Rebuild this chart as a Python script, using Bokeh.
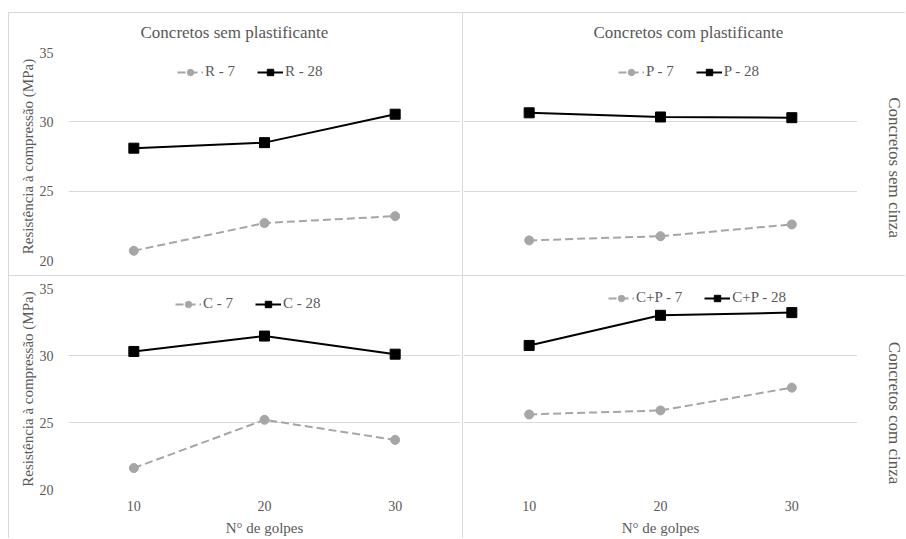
import math
from bokeh.plotting import figure
from bokeh.models import Range1d, FactorRange, FixedTicker, Legend, LegendItem, Title, Div, Label
from bokeh.layouts import column, row
from bokeh.embed import file_html
from bokeh.resources import INLINE

# ---------------- data ----------------
golpes = ["10", "20", "30"]
y_ticks = [20, 25, 30, 35]

r7 = [20.7, 22.7, 23.2]
r28 = [28.1, 28.5, 30.55]
p7 = [21.45, 21.75, 22.6]
p28 = [30.65, 30.35, 30.3]
c7 = [21.6, 25.2, 23.7]
c28 = [30.3, 31.45, 30.1]
cp7 = [25.6, 25.9, 27.6]
cp28 = [30.75, 33.0, 33.2]

col_titles = ["Concretos sem plastificante", "Concretos com plastificante"]
row_titles = ["Concretos sem cinza", "Concretos com cinza"]
y_label = "Resistência à compressão (MPa)"
x_label = "N° de golpes"

FONT = "Liberation Serif, Tinos, serif"
TXT = "#595959"
GRID = "#d9d9d9"
GRAY = "#a6a6a6"


def panel(s7, s28, n7, n28, width, height, mbl, mbr, mbt, mbb,
          show_y, show_x, top_title, top_off, leg_loc):
    p = figure(width=width, height=height,
               x_range=FactorRange(factors=golpes, range_padding=0),
               y_range=Range1d(20, 35),
               output_backend="svg", toolbar_location=None, tools="",
               title=None,
               min_border_left=mbl, min_border_right=mbr,
               min_border_top=mbt, min_border_bottom=mbb)
    p.outline_line_color = None
    p.background_fill_color = "white"
    p.border_fill_color = "white"

    l7 = p.line(golpes, s7, line_color=GRAY, line_width=2, line_dash="8 4")
    m7 = p.scatter(golpes, s7, marker="circle", size=9, fill_color=GRAY, line_color=GRAY)
    l28 = p.line(golpes, s28, line_color="black", line_width=2)
    m28 = p.scatter(golpes, s28, marker="square", size=10, fill_color="black", line_color="black")

    p.xgrid.visible = False
    p.ygrid.grid_line_color = GRID
    p.ygrid.ticker = FixedTicker(ticks=y_ticks)

    for ax in (p.xaxis[0], p.yaxis[0]):
        ax.axis_line_color = None
        ax.major_tick_line_color = None
        ax.minor_tick_line_color = None
        ax.major_tick_out = 0
        ax.major_tick_in = 0
        ax.minor_tick_out = 0
        ax.minor_tick_in = 0
        ax.major_label_text_font = FONT
        ax.major_label_text_font_size = "14px"
        ax.major_label_text_color = TXT
        ax.axis_label_text_font = FONT
        ax.axis_label_text_font_size = "15px"
        ax.axis_label_text_color = TXT
        ax.axis_label_text_font_style = "normal"
    p.yaxis.ticker = FixedTicker(ticks=y_ticks)

    if show_y:
        p.yaxis.axis_label = y_label
        p.yaxis.major_label_standoff = 15
        p.yaxis.axis_label_standoff = 1
    else:
        p.yaxis.visible = False
    if show_x:
        p.xaxis.axis_label = x_label
        p.xaxis.major_label_standoff = 11
        p.xaxis.axis_label_standoff = 6
    else:
        p.xaxis.visible = False

    legend = Legend(items=[LegendItem(label=n7, renderers=[l7, m7]),
                           LegendItem(label=n28, renderers=[l28, m28])],
                    orientation="horizontal", location=leg_loc,
                    border_line_color=None, background_fill_alpha=0,
                    padding=0, margin=0, spacing=22, label_standoff=2,
                    glyph_width=26, glyph_height=16,
                    label_text_font=FONT, label_text_font_size="15px",
                    label_text_color=TXT)
    p.add_layout(legend)

    if top_title:
        p.add_layout(Title(text=top_title, align="left", offset=top_off, standoff=18,
                           vertical_align="top",
                           text_font=FONT, text_font_size="17px", text_color=TXT,
                           text_font_style="normal"), "above")
    return p


def row_label(text, height, mbt, mbb, y_pos):
    q = figure(width=SW, height=height, x_range=Range1d(0, 1), y_range=Range1d(20, 35),
               x_axis_location=None, y_axis_location=None,
               output_backend="svg", toolbar_location=None, tools="", title=None,
               min_border_left=0, min_border_right=0,
               min_border_top=mbt, min_border_bottom=mbb)
    q.outline_line_color = None
    q.grid.visible = False
    q.background_fill_color = "white"
    q.border_fill_color = "white"
    q.add_layout(Label(x=0.78, y=y_pos, text=text, angle=-math.pi / 2,
                       text_align="center", text_baseline="middle",
                       text_font=FONT, text_font_size="17px", text_color=TXT))
    return q


LW, RW, SW = 453, 394, 48
TH, BH = 262, 262

tl = panel(r7, r28, "R - 7", "R - 28", LW, TH, 59, 2, 39, 15, True, False,
           col_titles[0], 72, (109, 180))
tr = panel(p7, p28, "P - 7", "P - 28", RW, TH, 0, 0, 39, 15, False, False,
           col_titles[1], 130, (155, 180))
bl = panel(c7, c28, "C - 7", "C - 28", LW, BH, 59, 2, 12, 47, True, True,
           None, 0, (107, 177))
br = panel(cp7, cp28, "C+P - 7", "C+P - 28", RW, BH, 0, 0, 12, 47, False, True,
           None, 0, (145, 183))
tr_lab = row_label(row_titles[0], TH, 39, 15, 26.7)
br_lab = row_label(row_titles[1], BH, 12, 47, 25.7)


def blank(w, h):
    return Div(text="", width=w, height=h, margin=0)


def vline(h):
    return Div(text="", width=1, height=h, margin=0, styles={"background-color": GRID})


def hline(w):
    return Div(text="", width=w, height=1, margin=0, styles={"background-color": GRID})


INNER_W = 1 + LW + 1 + RW + SW
right_block = column(
    blank(INNER_W, 12),
    hline(INNER_W),
    row(vline(TH), tl, vline(TH), tr, tr_lab, spacing=0),
    hline(INNER_W),
    row(vline(BH), bl, vline(BH), br, br_lab, spacing=0),
    spacing=0,
)
layout = row(blank(8, 12 + 1 + TH + 1 + BH), right_block, spacing=0)

open("out.html", "w").write(file_html(layout, INLINE))
